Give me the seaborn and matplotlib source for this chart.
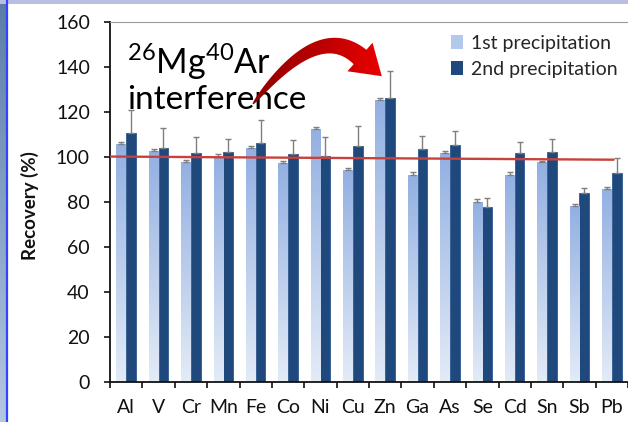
import numpy as np
import pandas as pd
import seaborn as sns
import matplotlib.pyplot as plt
from matplotlib.patches import Rectangle, Patch, Polygon
from matplotlib.colors import LinearSegmentedColormap
from matplotlib.lines import Line2D

# Recovery of elements after the first and second precipitation
elements = ['Al', 'V', 'Cr', 'Mn', 'Fe', 'Co', 'Ni', 'Cu', 'Zn', 'Ga', 'As', 'Se', 'Cd', 'Sn', 'Sb', 'Pb']
first = [105.8, 102.8, 97.6, 100.1, 103.8, 97.3, 112.3, 94.2, 125.3, 92.1, 101.6, 80.1, 92.0, 97.9, 78.2, 85.8]
first_err = [0.9, 0.8, 0.9, 1.1, 1.2, 1.1, 1.0, 0.8, 0.9, 1.1, 1.1, 1.2, 1.3, 0.5, 1.1, 0.9]
second = [110.5, 104.1, 101.9, 102.2, 106.1, 101.2, 100.6, 105.0, 126.4, 103.6, 105.3, 77.6, 101.9, 102.4, 84.1, 93.0]
second_err = [10.5, 8.9, 6.8, 5.9, 10.5, 6.4, 8.4, 8.9, 12.0, 5.6, 6.3, 4.0, 4.8, 5.7, 2.3, 6.5]
series = ['1st precipitation', '2nd precipitation']
ref_line = [100.2, 98.8]
y_ticks = [0, 20, 40, 60, 80, 100, 120, 140, 160]

sns.set_style('white')
plt.rcParams['font.family'] = ['Lato', 'DejaVu Sans']
plt.rcParams['mathtext.fontset'] = 'custom'
plt.rcParams['mathtext.rm'] = 'Lato'
plt.rcParams['mathtext.it'] = 'Lato'

W, H = 628, 422
fig = plt.figure(figsize=(W / 100, H / 100), dpi=100)
fig.patch.set_facecolor('white')

# slide decorations: blue side strip, blue rule and top band
side = fig.add_axes([0, 0, 6 / W, 1])
side.imshow(np.linspace(0, 1, 100).reshape(-1, 1), aspect='auto',
            cmap=LinearSegmentedColormap.from_list('side', ['#5B7DA6', '#B3C7E2']))
side.axis('off')
fig.lines.append(Line2D([6.5 / W, 6.5 / W], [0, 1], transform=fig.transFigure,
                       color='#3344FF', lw=1.6))
fig.patches.append(Rectangle((0, 1 - 3.5 / H), 1, 3.5 / H, transform=fig.transFigure,
                             color='#B9BFE2', lw=0))

ax = fig.add_axes([110 / W, 1 - 382 / H, (W - 110) / W, 360 / H])

df = pd.DataFrame({
    'element': elements * 2,
    'recovery': first + second,
    'round': [series[0]] * len(elements) + [series[1]] * len(elements),
})
sns.barplot(data=df, x='element', y='recovery', hue='round', order=elements,
            hue_order=series, palette=['#A9C0E8', '#1F497D'], width=0.6,
            errorbar=None, legend=False, ax=ax, saturation=1, edgecolor='none')

light_cmap = LinearSegmentedColormap.from_list('light', ['#E3EBF7', '#93B0E2'])
grad = np.linspace(0, 1, 200).reshape(-1, 1)
for bar in ax.containers[0]:
    x0, w, h = bar.get_x(), bar.get_width(), bar.get_height()
    bar.set_facecolor('none')
    im = ax.imshow(grad, extent=[x0, x0 + w, 0, h], origin='lower', aspect='auto',
                   cmap=light_cmap, zorder=bar.get_zorder())
    im.set_clip_path(bar)
for bar in ax.containers[1]:
    bar.set_edgecolor('#2C5890')
    bar.set_linewidth(0.6)

for cont, err in zip(ax.containers, [first_err, second_err]):
    xs = [b.get_x() + b.get_width() / 2 for b in cont]
    hs = [b.get_height() for b in cont]
    ax.errorbar(xs, hs, yerr=[np.zeros(len(err)), err], fmt='none', ecolor='#7F7F7F',
                elinewidth=1.0, capsize=2.5, capthick=1.0, zorder=4)

x_max = -0.5 + (W - 110) / 33.3
ax.plot([-0.5, x_max], ref_line, color='#C9413E', lw=1.7, zorder=5)

ax.set_xlim(-0.5, x_max)
ax.set_ylim(0, 160)
ax.set_yticks(y_ticks)
ax.set_xlabel('')
ax.set_ylabel('Recovery (%)', fontsize=13.5, fontweight='bold', color='#111111')
ax.yaxis.set_label_coords(-0.137, 0.49)

ax.tick_params(axis='y', direction='out', length=4.5, width=1.2, color='#111111',
               labelsize=14, labelcolor='#111111', pad=10, left=True)
ax.tick_params(axis='x', which='major', length=0, labelsize=14, labelcolor='#111111', pad=12)
ax.set_xticks(np.arange(-0.5, len(elements), 1.0), minor=True)
ax.tick_params(axis='x', which='minor', direction='out', length=4.5, width=1.2,
               color='#111111', bottom=True)

for side_name in ['left', 'bottom']:
    ax.spines[side_name].set_color('#111111')
    ax.spines[side_name].set_linewidth(1.3)
ax.spines['top'].set_color('#9A9A9A')
ax.spines['top'].set_linewidth(0.8)
ax.spines['right'].set_visible(False)

# annotation for the Zn interference
ax.text(17 / 518, (382 - 62) / 360, r'$^{26}$Mg$^{40}$Ar', transform=ax.transAxes,
        fontsize=24.5, va='center', ha='left', color='black')
ax.text(17 / 518, (382 - 100) / 360, 'interference', transform=ax.transAxes,
        fontsize=24, va='center', ha='left', color='black')

# curved arrow drawn on a pixel-space overlay (y grows downward)
over = fig.add_axes([0, 0, 1, 1], facecolor='none')
over.axis('off')
p0, p1, p2 = np.array([253.0, 104.0]), np.array([318.0, 20.0]), np.array([360.0, 57.0])
t = np.linspace(0, 1, 60)[:, None]
centre = (1 - t) ** 2 * p0 + 2 * (1 - t) * t * p1 + t ** 2 * p2
tang = 2 * (1 - t) * (p1 - p0) + 2 * t * (p2 - p1)
tang /= np.linalg.norm(tang, axis=1, keepdims=True)
norm = np.column_stack([-tang[:, 1], tang[:, 0]])
half = (0.6 + 9.0 * t[:, 0] ** 0.6)[:, None]
upper = centre + norm * half
lower = centre - norm * half
end_t, end_n = tang[-1], norm[-1]
tip = p2 + end_t * 29
head = [p2 + end_n * 19, tip, p2 - end_n * 19]
outline = np.vstack([upper, head, lower[::-1]])
arrow = Polygon(outline, closed=True, facecolor='none', edgecolor='none')
over.add_patch(arrow)
red_cmap = LinearSegmentedColormap.from_list('red', ['#8E0000', '#B80000', '#F00000'])
xg = np.linspace(0, 1, 200).reshape(1, -1)
rim = over.imshow(xg, extent=[245, 390, 110, 30], cmap=red_cmap, aspect='auto', zorder=6)
rim.set_clip_path(arrow)
over.set_xlim(0, W)
over.set_ylim(H, 0)

handles = [Patch(facecolor='#B3C8EA', edgecolor='none'), Patch(facecolor='#1F497D', edgecolor='none')]
ax.legend(handles, series, loc='upper left', bbox_to_anchor=((451 - 110) / 518, (382 - 35) / 360),
          frameon=False, fontsize=14, handlelength=0.6, handleheight=0.75,
          handletextpad=0.45, labelspacing=0.45, borderaxespad=0, borderpad=0)

fig.savefig('out.png', dpi=100)
